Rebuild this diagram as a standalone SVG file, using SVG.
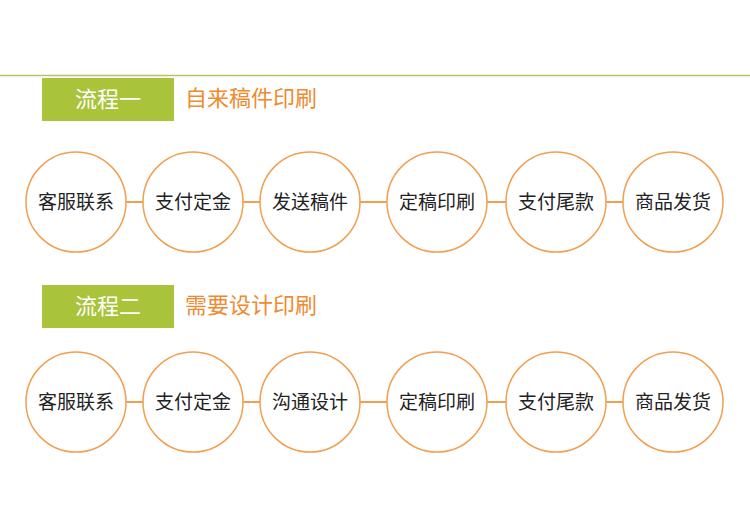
<svg xmlns="http://www.w3.org/2000/svg" width="750" height="505" viewBox="0 0 750 505">
<style>
.c{fill:#fff;stroke:#f0a050;stroke-width:1.5}
.l{stroke:#f0a050;stroke-width:2}
.t{font-family:"Noto Sans CJK SC",sans-serif;font-size:19px;fill:#222;text-anchor:middle}
.h{font-family:"Noto Sans CJK SC",sans-serif;font-size:22px}
.bx{fill:#a9c33a}
</style>
<rect width="750" height="505" fill="#fff"/>
<line x1="0" y1="75.5" x2="750" y2="75.5" stroke="#b8c46a" stroke-width="1.5"/>
<g id="h1"><rect class="bx" x="42" y="78" width="132" height="43"/><text class="h" x="108" y="107" fill="#fff" text-anchor="middle">流程一</text><text class="h" x="185" y="106" fill="#f08a30">自来稿件印刷</text></g>
<g id="h2"><rect class="bx" x="42" y="285" width="132" height="43"/><text class="h" x="108" y="314" fill="#fff" text-anchor="middle">流程二</text><text class="h" x="185" y="313" fill="#f08a30">需要设计印刷</text></g>
<g id="connectors">
<line class="l" x1="126" y1="202" x2="143" y2="202"/><line class="l" x1="243" y1="202" x2="260" y2="202"/><line class="l" x1="360" y1="202" x2="387" y2="202"/><line class="l" x1="487" y1="202" x2="506" y2="202"/><line class="l" x1="606" y1="202" x2="623" y2="202"/>
<line class="l" x1="126" y1="402" x2="143" y2="402"/><line class="l" x1="243" y1="402" x2="260" y2="402"/><line class="l" x1="360" y1="402" x2="387" y2="402"/><line class="l" x1="487" y1="402" x2="506" y2="402"/><line class="l" x1="606" y1="402" x2="623" y2="402"/>
</g>
<g id="a1"><circle class="c" cx="76" cy="202" r="50"/><text class="t" x="76" y="209">客服联系</text></g>
<g id="a2"><circle class="c" cx="193" cy="202" r="50"/><text class="t" x="193" y="209">支付定金</text></g>
<g id="a3"><circle class="c" cx="310" cy="202" r="50"/><text class="t" x="310" y="209">发送稿件</text></g>
<g id="a4"><circle class="c" cx="437" cy="202" r="50"/><text class="t" x="437" y="209">定稿印刷</text></g>
<g id="a5"><circle class="c" cx="556" cy="202" r="50"/><text class="t" x="556" y="209">支付尾款</text></g>
<g id="a6"><circle class="c" cx="673" cy="202" r="50"/><text class="t" x="673" y="209">商品发货</text></g>
<g id="b1"><circle class="c" cx="76" cy="402" r="50"/><text class="t" x="76" y="409">客服联系</text></g>
<g id="b2"><circle class="c" cx="193" cy="402" r="50"/><text class="t" x="193" y="409">支付定金</text></g>
<g id="b3"><circle class="c" cx="310" cy="402" r="50"/><text class="t" x="310" y="409">沟通设计</text></g>
<g id="b4"><circle class="c" cx="437" cy="402" r="50"/><text class="t" x="437" y="409">定稿印刷</text></g>
<g id="b5"><circle class="c" cx="556" cy="402" r="50"/><text class="t" x="556" y="409">支付尾款</text></g>
<g id="b6"><circle class="c" cx="673" cy="402" r="50"/><text class="t" x="673" y="409">商品发货</text></g>
</svg>
